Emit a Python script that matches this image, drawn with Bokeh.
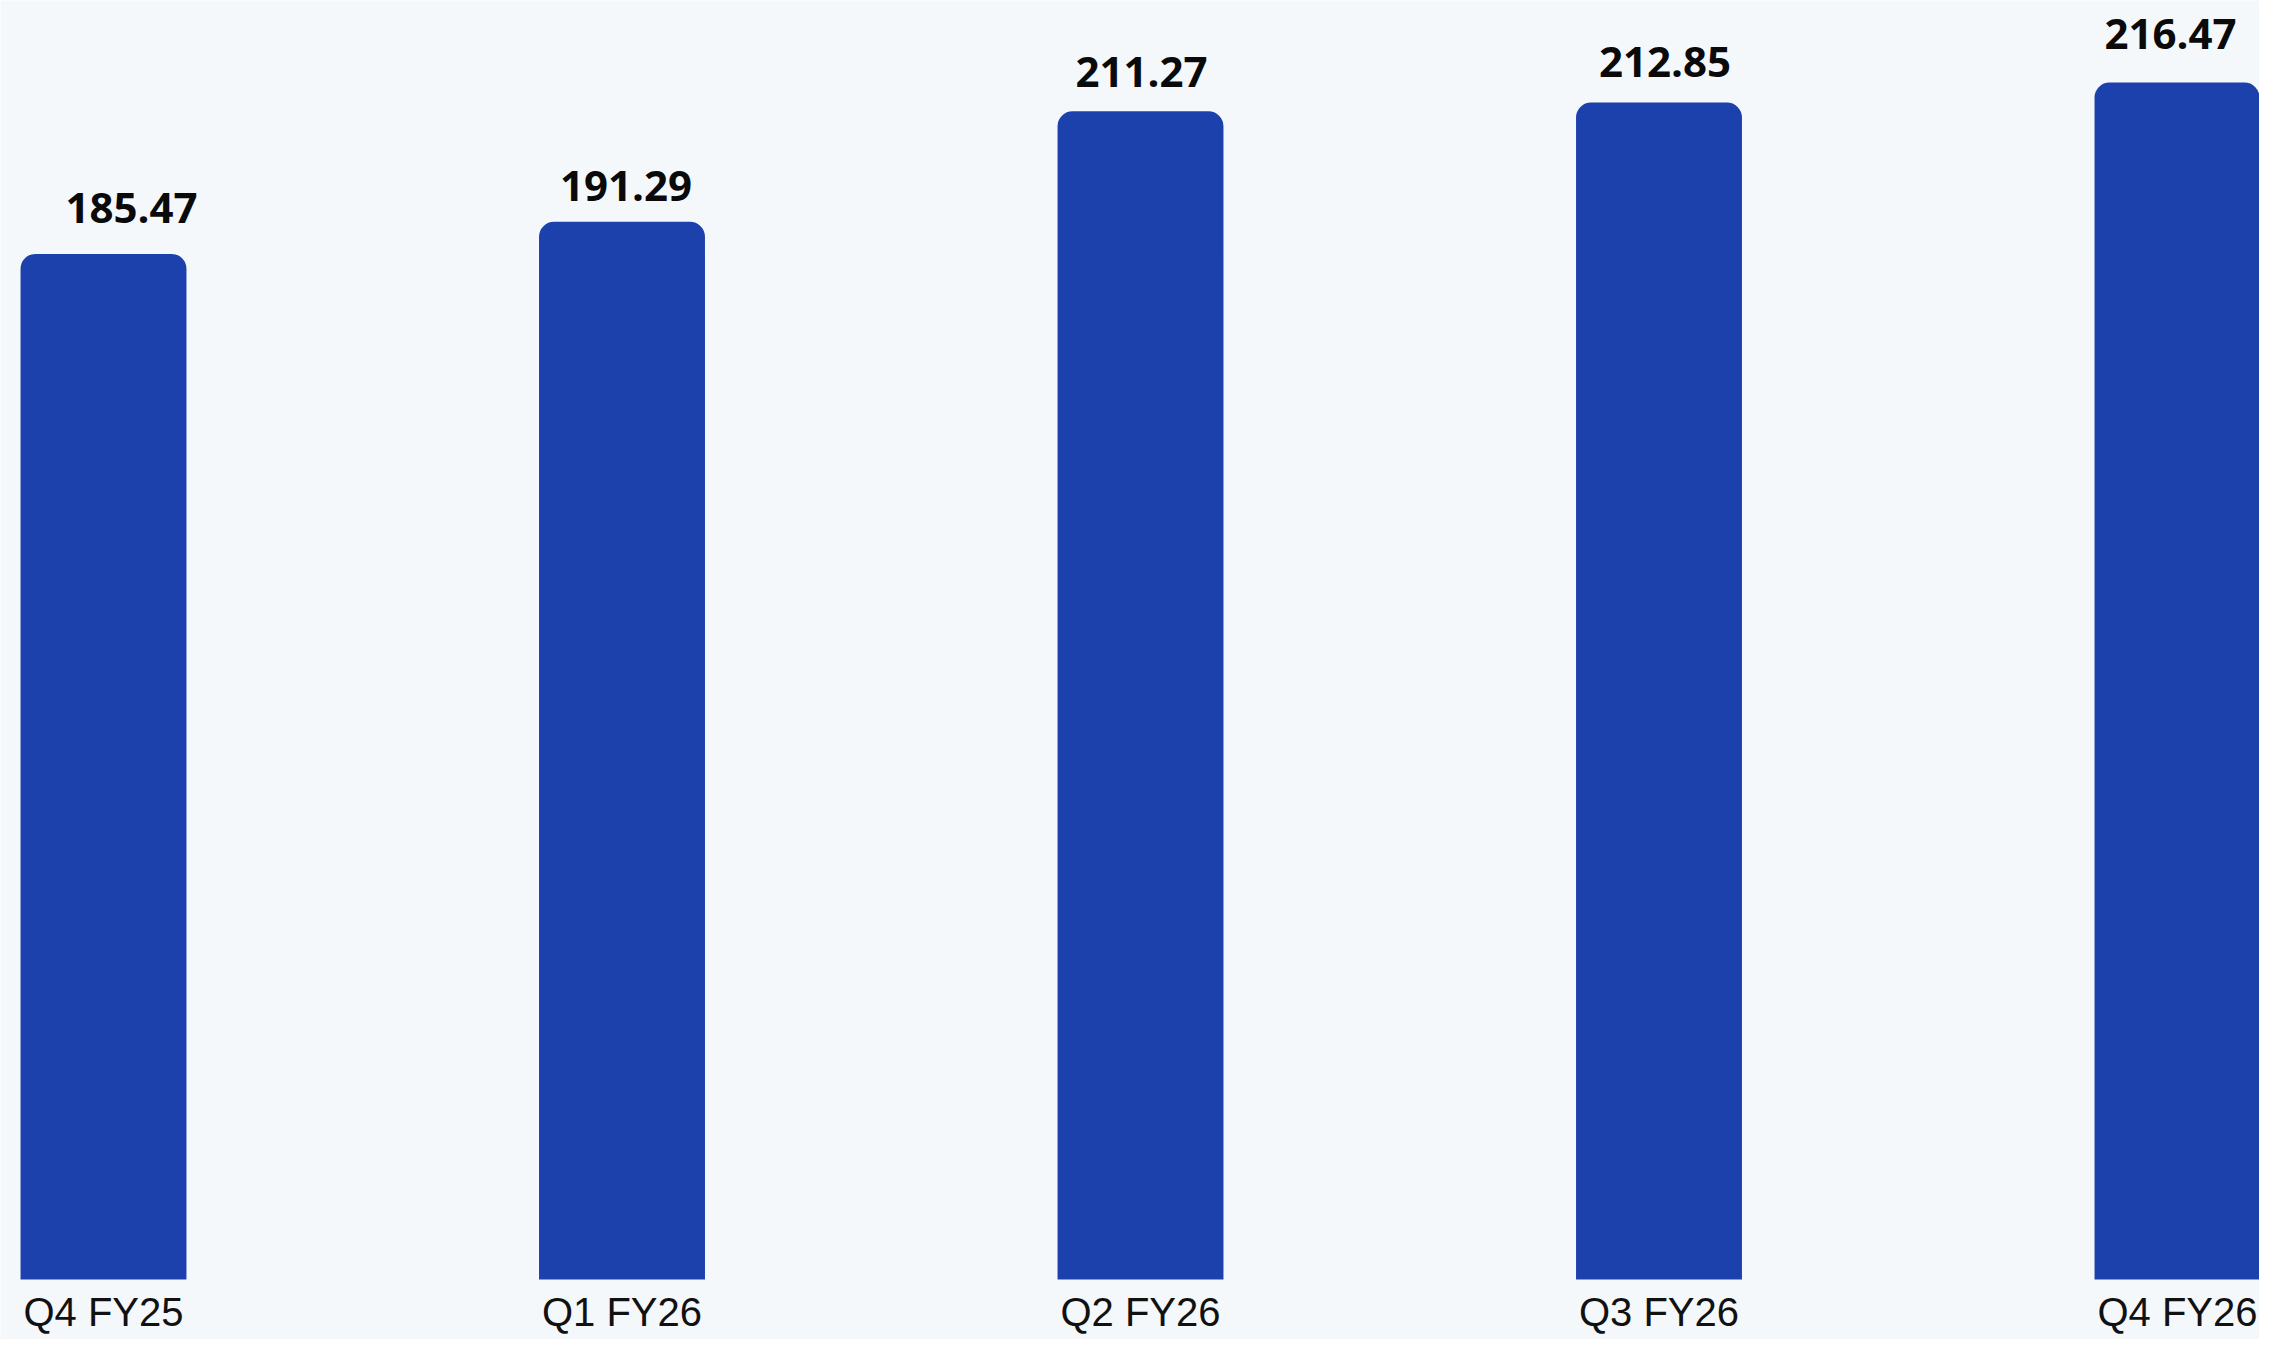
from bokeh.plotting import figure
from bokeh.models import ColumnDataSource, Range1d, LabelSet
from bokeh.core.properties import value
from bokeh.embed import file_html
from bokeh.resources import INLINE

categories = ["Q4 FY25", "Q1 FY26", "Q2 FY26", "Q3 FY26", "Q4 FY26"]
values = [185.47, 191.29, 211.27, 212.85, 216.47]
label_text = [f"{v:.2f}" for v in values]

# style only: pixel nudges of the value labels
label_dx = [28, 4, 1, 6, -7]
label_dy = [31, 21, 24, 26, 34]

xs = list(range(len(categories)))
src = ColumnDataSource(dict(x=xs, zero=[0] * len(xs), v=values, t=label_text,
                            c=categories, dx=label_dx, dy=label_dy))

BG = "#F4F8FB"
p = figure(width=2259, height=1339, output_backend="svg", toolbar_location=None,
           x_range=Range1d(-0.19865, 4.15815), y_range=Range1d(-10.851, 231.30),
           x_axis_location=None, y_axis_location=None,
           min_border_left=0, min_border_right=0, min_border_top=0, min_border_bottom=0)
p.background_fill_color = BG
p.border_fill_color = BG
p.outline_line_color = None
p.grid.visible = False

p.vbar(x="x", top="v", bottom=0, width=0.32, source=src,
       fill_color="#1C40AC", line_color=None, border_radius=(15, 15, 0, 0))

value_labels = LabelSet(x="x", y="v", text="t", source=src, x_offset="dx", y_offset="dy",
                        text_align="center", text_baseline="alphabetic",
                        text_font=value("Open Sans"), text_font_style="bold",
                        text_font_size="42px", text_color="#0A0A0A")
p.add_layout(value_labels)

cat_labels = LabelSet(x="x", y="zero", text="c", source=src, y_offset=-47,
                      text_align="center", text_baseline="alphabetic",
                      text_font=value("Liberation Sans"),
                      text_font_size="40px", text_color="#111111")
p.add_layout(cat_labels)

open("out.html", "w").write(file_html(p, INLINE))
